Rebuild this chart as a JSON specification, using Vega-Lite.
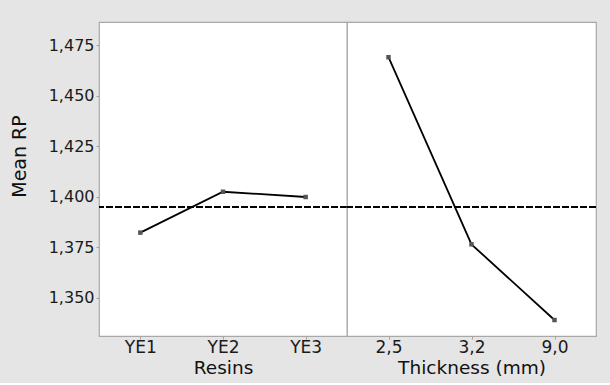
{
  "$schema": "https://vega.github.io/schema/vega-lite/v6.json",
  "background": "#e5e5e5",
  "padding": {"left": 9, "top": 21, "right": 13, "bottom": 5},
  "spacing": 0,
  "bounds": "flush",
  "config": {
    "locale": {"number": {"decimal": ",", "thousands": ".", "grouping": [3], "currency": ["", ""]}},
    "view": {"stroke": "#a8a8a8", "strokeWidth": 1.2, "fill": "white"},
    "concat": {"spacing": 0},
    "font": "DejaVu Sans",
    "axis": {
      "domain": false,
      "grid": false,
      "tickColor": "#b0a090",
      "tickSize": 3,
      "labelFont": "DejaVu Sans",
      "labelFontSize": 16,
      "labelColor": "#1a1a1a",
      "titleFont": "DejaVu Sans",
      "titleFontWeight": "normal",
      "titleColor": "#111111"
    }
  },
  "datasets": {
    "means": [
      {"factor": "Resins", "level": "YE1", "mean": 1.3823},
      {"factor": "Resins", "level": "YE2", "mean": 1.4025},
      {"factor": "Resins", "level": "YE3", "mean": 1.3999},
      {"factor": "Thickness", "level": "2,5", "mean": 1.469},
      {"factor": "Thickness", "level": "3,2", "mean": 1.3765},
      {"factor": "Thickness", "level": "9,0", "mean": 1.3391}
    ],
    "grand": [{"v": 1.395}]
  },
  "hconcat": [
    {
      "width": 248,
      "height": 314,
      "layer": [
        {
          "data": {"name": "grand"},
          "mark": {"type": "rule", "color": "black", "strokeDash": [7, 2], "strokeWidth": 2},
          "encoding": {
            "y": {"field": "v", "type": "quantitative", "scale": {"domain": [1.3312, 1.4864], "nice": false, "zero": false},
              "axis": {"values": [1.35, 1.375, 1.4, 1.425, 1.45, 1.475], "format": ".3f", "title": "Mean RP", "titleFontSize": 19, "labelPadding": 2, "titlePadding": 19, "titleY": 134}}
          }
        },
        {
          "data": {"name": "means"},
          "transform": [{"filter": "datum.factor === 'Resins'"}],
          "mark": {"type": "line", "color": "black", "strokeWidth": 1.8, "point": {"filled": true, "color": "#555555", "shape": "square", "size": 20}},
          "encoding": {
            "x": {"field": "level", "type": "ordinal", "sort": null, "scale": {"type": "point", "padding": 0.5},
              "axis": {"title": "Resins", "labelAngle": 0, "labelFontSize": 17, "titleFontSize": 18.5, "labelPadding": 0, "titlePadding": 3}},
            "y": {"field": "mean", "type": "quantitative", "scale": {"domain": [1.3312, 1.4864], "nice": false, "zero": false}}
          }
        }
      ]
    },
    {
      "width": 249,
      "height": 314,
      "layer": [
        {
          "data": {"name": "grand"},
          "mark": {"type": "rule", "color": "black", "strokeDash": [7, 2], "strokeWidth": 2},
          "encoding": {
            "y": {"field": "v", "type": "quantitative", "scale": {"domain": [1.3312, 1.4864], "nice": false, "zero": false}, "axis": null}
          }
        },
        {
          "data": {"name": "means"},
          "transform": [{"filter": "datum.factor === 'Thickness'"}],
          "mark": {"type": "line", "color": "black", "strokeWidth": 1.8, "point": {"filled": true, "color": "#555555", "shape": "square", "size": 20}},
          "encoding": {
            "x": {"field": "level", "type": "ordinal", "sort": null, "scale": {"type": "point", "padding": 0.5},
              "axis": {"title": "Thickness (mm)", "labelAngle": 0, "labelFontSize": 17, "titleFontSize": 18.5, "labelPadding": 0, "titlePadding": 3}},
            "y": {"field": "mean", "type": "quantitative", "scale": {"domain": [1.3312, 1.4864], "nice": false, "zero": false}, "axis": null}
          }
        }
      ]
    }
  ]
}
